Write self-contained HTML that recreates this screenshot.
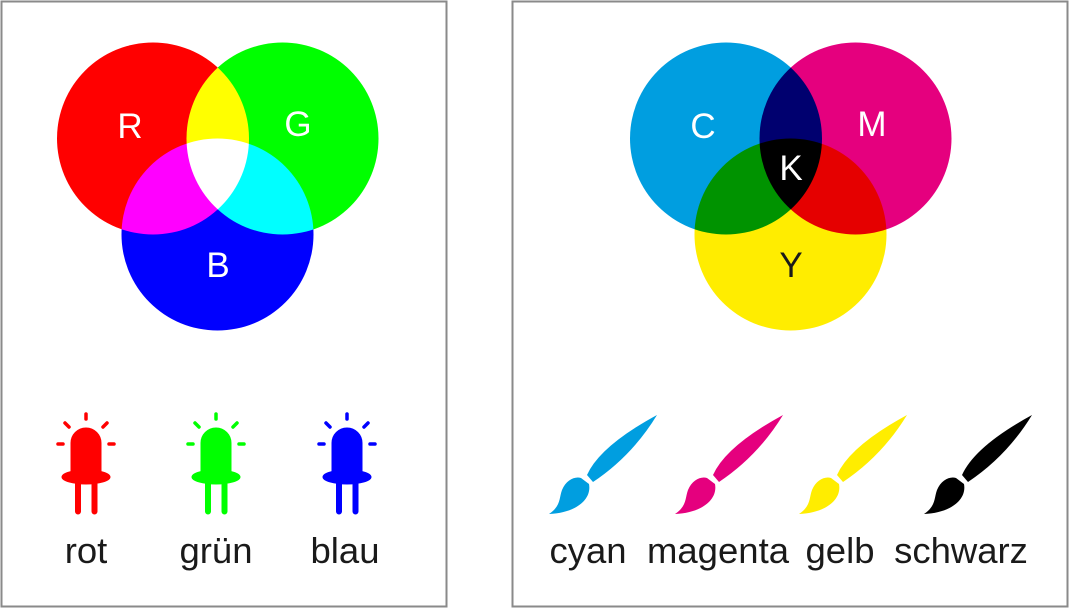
<!DOCTYPE html>
<html><head><meta charset="utf-8"><style>
html,body{margin:0;padding:0;background:#fff;}
svg{display:block;}
text{font-family:"Liberation Sans",Arial,sans-serif;}
</style></head><body>
<svg width="1070" height="609" viewBox="0 0 1070 609" xmlns="http://www.w3.org/2000/svg">
<defs>
<g id="led">
  <path d="M-15,477 L-15,443 A15,15 0 0 1 15,443 L15,477 Z"/>
  <ellipse cx="0" cy="477" rx="24" ry="7"/>
  <rect x="-10.5" y="477" width="5" height="37" rx="2.5"/>
  <rect x="6" y="477" width="5" height="37" rx="2.5"/>
  <g stroke-width="3.5" stroke-linecap="round">
    <line x1="0" y1="414" x2="0" y2="419"/>
    <line x1="-21" y1="423" x2="-17" y2="427"/>
    <line x1="21" y1="423" x2="17" y2="427"/>
    <line x1="-28" y1="444" x2="-23" y2="444"/>
    <line x1="28" y1="444" x2="23" y2="444"/>
  </g>
</g>
<g id="brush">
  <path d="M587,475 Q600,446 657,415 Q632,456 593,482 Z"/>
  <path d="M581,478 L589,484 C592,500 575,513 549,514 C561,506 559,498 562,490 C566,480 575,476 581,478 Z"/>
</g>
</defs>
<rect x="1.5" y="1.5" width="445" height="605" fill="#fff" stroke="#8a8a8a" stroke-width="2"/>
<rect x="512.5" y="1.5" width="555" height="605" fill="#fff" stroke="#8a8a8a" stroke-width="2"/>

<g style="isolation:isolate">
  <circle cx="153" cy="138.5" r="96" fill="#ff0000" style="mix-blend-mode:screen"/>
  <circle cx="282.5" cy="138.5" r="96" fill="#00ff00" style="mix-blend-mode:screen"/>
  <circle cx="217.5" cy="234.5" r="96" fill="#0000ff" style="mix-blend-mode:screen"/>
</g>
<g style="isolation:isolate">
  <circle cx="726" cy="138.5" r="96" fill="#009ee0" style="mix-blend-mode:multiply"/>
  <circle cx="855.5" cy="138.5" r="96" fill="#e5007e" style="mix-blend-mode:multiply"/>
  <circle cx="790.5" cy="234.5" r="96" fill="#ffed00" style="mix-blend-mode:multiply"/>
</g>
<g fill="#fff" font-size="35" text-anchor="middle">
  <text x="130" y="138">R</text>
  <text x="298" y="136">G</text>
  <text x="218" y="277">B</text>
  <text x="703" y="138">C</text>
  <text x="872" y="136">M</text>
  <text x="791" y="180">K</text>
</g>
<text x="791" y="277" font-size="35" text-anchor="middle" fill="#1a1a1a">Y</text>

<use href="#led" x="86" fill="#ff0000" stroke="#ff0000"/>
<use href="#led" x="216" fill="#00ff00" stroke="#00ff00"/>
<use href="#led" x="347" fill="#0000ff" stroke="#0000ff"/>

<use href="#brush" fill="#009ee0"/>
<use href="#brush" x="126" fill="#e5007e"/>
<use href="#brush" x="250" fill="#ffed00"/>
<use href="#brush" x="375" fill="#000"/>

<g fill="#1a1a1a" font-size="36.5" text-anchor="middle">
  <text x="86" y="563">rot</text>
  <text x="216" y="563">grün</text>
  <text x="345" y="563">blau</text>
  <text x="588" y="563">cyan</text>
  <text x="718" y="563">magenta</text>
  <text x="840" y="563">gelb</text>
  <text x="961" y="563">schwarz</text>
</g>
</svg>
</body></html>
